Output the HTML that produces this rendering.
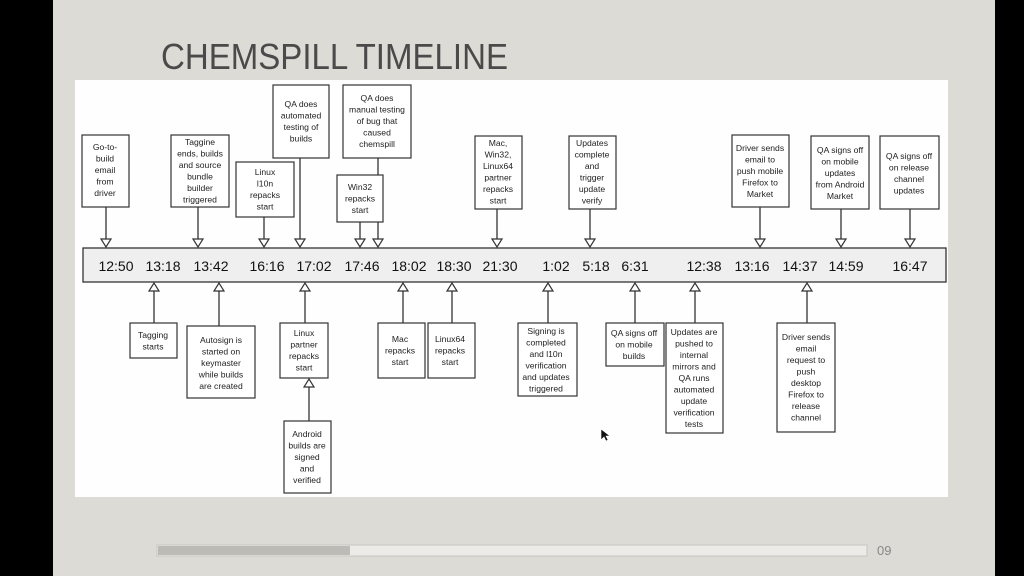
<!DOCTYPE html>
<html><head><meta charset="utf-8"><style>
html,body{margin:0;padding:0;background:#000;}
svg{display:block;}
text{font-family:"Liberation Sans",sans-serif;}
</style></head><body>
<svg width="1024" height="576" viewBox="0 0 1024 576" xmlns="http://www.w3.org/2000/svg">
<rect x="0" y="0" width="1024" height="576" fill="#000"/>
<rect x="53" y="0" width="942" height="576" fill="#dddbd5"/>
<text x="161" y="69" font-size="36" fill="#4a4a4a" textLength="347" lengthAdjust="spacingAndGlyphs" style="font-weight:300">CHEMSPILL TIMELINE</text>
<rect x="75" y="80" width="873" height="417" fill="#fefefe"/>
<!-- progress -->
<rect x="157" y="545" width="710" height="11" fill="#ecebe7" stroke="#c8c6c0" stroke-width="1"/>
<rect x="158" y="546" width="192" height="9" fill="#bdbbb6"/>
<text x="877" y="555" font-size="13" fill="#888">09</text>

<g stroke="#333" stroke-width="1.3" fill="#fff">
<!-- bar -->
<rect x="83" y="248" width="863" height="34" fill="#efefef"/>
</g>
<g font-size="14" fill="#111" text-anchor="middle">
<text x="116" y="271">12:50</text><text x="163" y="271">13:18</text><text x="211" y="271">13:42</text>
<text x="267" y="271">16:16</text><text x="314" y="271">17:02</text><text x="362" y="271">17:46</text>
<text x="409" y="271">18:02</text><text x="454" y="271">18:30</text><text x="500" y="271">21:30</text>
<text x="556" y="271">1:02</text><text x="596" y="271">5:18</text><text x="635" y="271">6:31</text>
<text x="704" y="271">12:38</text><text x="752" y="271">13:16</text><text x="800" y="271">14:37</text>
<text x="846" y="271">14:59</text><text x="910" y="271">16:47</text>
</g>

<g stroke="#333" stroke-width="1.3" fill="none">
<!-- top connectors -->
<path d="M106 207V240M198 207V240M264 217V240M300 158V240M378 158V240M360 222V240M497 209V240M590 209V240M760 207V240M841 209V240M910 209V240"/>
<!-- bottom connectors -->
<path d="M154 291V323M219 291V326M305 291V323M309 387V421M403 291V323M452 291V323M548 291V323M635 291V323M695 291V323M807 291V323"/>
</g>
<g stroke="#333" stroke-width="1.2" fill="#fff">
<!-- down arrowheads -->
<path d="M101 239h10l-5 8z"/><path d="M193 239h10l-5 8z"/><path d="M259 239h10l-5 8z"/><path d="M295 239h10l-5 8z"/>
<path d="M373 239h10l-5 8z"/><path d="M355 239h10l-5 8z"/><path d="M492 239h10l-5 8z"/><path d="M585 239h10l-5 8z"/>
<path d="M755 239h10l-5 8z"/><path d="M836 239h10l-5 8z"/><path d="M905 239h10l-5 8z"/>
<!-- up arrowheads -->
<path d="M149 291h10l-5 -8z"/><path d="M214 291h10l-5 -8z"/><path d="M300 291h10l-5 -8z"/><path d="M304 387h10l-5 -8z"/>
<path d="M398 291h10l-5 -8z"/><path d="M447 291h10l-5 -8z"/><path d="M543 291h10l-5 -8z"/><path d="M630 291h10l-5 -8z"/>
<path d="M690 291h10l-5 -8z"/><path d="M802 291h10l-5 -8z"/>
<!-- top boxes -->
<rect x="82" y="135" width="47" height="72"/>
<rect x="171" y="135" width="58" height="72"/>
<rect x="236" y="162" width="58" height="55"/>
<rect x="273" y="85" width="56" height="73"/>
<rect x="343" y="85" width="68" height="73"/>
<rect x="337" y="175" width="46" height="47"/>
<rect x="475" y="136" width="47" height="73"/>
<rect x="569" y="136" width="47" height="73"/>
<rect x="732" y="135" width="57" height="72"/>
<rect x="811" y="136" width="58" height="73"/>
<rect x="880" y="136" width="59" height="73"/>
<!-- bottom boxes -->
<rect x="130" y="323" width="47" height="35"/>
<rect x="187" y="326" width="68" height="72"/>
<rect x="280" y="323" width="48" height="55"/>
<rect x="284" y="421" width="47" height="72"/>
<rect x="378" y="323" width="47" height="55"/>
<rect x="428" y="323" width="47" height="55"/>
<rect x="518" y="323" width="59" height="73"/>
<rect x="606" y="323" width="58" height="43"/>
<rect x="666" y="323" width="57" height="110"/>
<rect x="777" y="323" width="58" height="109"/>
</g>
<g font-size="8.6" fill="#222" text-anchor="middle">
<text x="105" y="150">Go-to-</text><text x="105" y="161.5">build</text><text x="105" y="173">email</text><text x="105" y="184.5">from</text><text x="105" y="196">driver</text>
<text x="200" y="145">Taggine</text><text x="200" y="156.5">ends, builds</text><text x="200" y="168">and source</text><text x="200" y="179.5">bundle</text><text x="200" y="191">builder</text><text x="200" y="202.5">triggered</text>
<text x="265" y="175">Linux</text><text x="265" y="186.5">l10n</text><text x="265" y="198">repacks</text><text x="265" y="209.5">start</text>
<text x="301" y="107">QA does</text><text x="301" y="118.5">automated</text><text x="301" y="130">testing of</text><text x="301" y="141.5">builds</text>
<text x="377" y="101">QA does</text><text x="377" y="112.5">manual testing</text><text x="377" y="124">of bug that</text><text x="377" y="135.5">caused</text><text x="377" y="147">chemspill</text>
<text x="360" y="190">Win32</text><text x="360" y="201.5">repacks</text><text x="360" y="213">start</text>
<text x="498" y="146">Mac,</text><text x="498" y="157.5">Win32,</text><text x="498" y="169">Linux64</text><text x="498" y="180.5">partner</text><text x="498" y="192">repacks</text><text x="498" y="203.5">start</text>
<text x="592" y="146">Updates</text><text x="592" y="157.5">complete</text><text x="592" y="169">and</text><text x="592" y="180.5">trigger</text><text x="592" y="192">update</text><text x="592" y="203.5">verify</text>
<text x="760" y="151">Driver sends</text><text x="760" y="162.5">email to</text><text x="760" y="174">push mobile</text><text x="760" y="185.5">Firefox to</text><text x="760" y="197">Market</text>
<text x="840" y="153">QA signs off</text><text x="840" y="164.5">on mobile</text><text x="840" y="176">updates</text><text x="840" y="187.5">from Android</text><text x="840" y="199">Market</text>
<text x="909" y="159">QA signs off</text><text x="909" y="170.5">on release</text><text x="909" y="182">channel</text><text x="909" y="193.5">updates</text>
<text x="153" y="338">Tagging</text><text x="153" y="349.5">starts</text>
<text x="221" y="343">Autosign is</text><text x="221" y="354.5">started on</text><text x="221" y="366">keymaster</text><text x="221" y="377.5">while builds</text><text x="221" y="389">are created</text>
<text x="304" y="336">Linux</text><text x="304" y="347.5">partner</text><text x="304" y="359">repacks</text><text x="304" y="370.5">start</text>
<text x="307" y="437">Android</text><text x="307" y="448.5">builds are</text><text x="307" y="460">signed</text><text x="307" y="471.5">and</text><text x="307" y="483">verified</text>
<text x="400" y="342">Mac</text><text x="400" y="353.5">repacks</text><text x="400" y="365">start</text>
<text x="450" y="342">Linux64</text><text x="450" y="353.5">repacks</text><text x="450" y="365">start</text>
<text x="546" y="334">Signing is</text><text x="546" y="345.5">completed</text><text x="546" y="357">and l10n</text><text x="546" y="368.5">verification</text><text x="546" y="380">and updates</text><text x="546" y="391.5">triggered</text>
<text x="634" y="336">QA signs off</text><text x="634" y="347.5">on mobile</text><text x="634" y="359">builds</text>
<text x="694" y="335">Updates are</text><text x="694" y="346.5">pushed to</text><text x="694" y="358">internal</text><text x="694" y="369.5">mirrors and</text><text x="694" y="381">QA runs</text><text x="694" y="392.5">automated</text><text x="694" y="404">update</text><text x="694" y="415.5">verification</text><text x="694" y="427">tests</text>
<text x="806" y="340">Driver sends</text><text x="806" y="351.5">email</text><text x="806" y="363">request to</text><text x="806" y="374.5">push</text><text x="806" y="386">desktop</text><text x="806" y="397.5">Firefox to</text><text x="806" y="409">release</text><text x="806" y="420.5">channel</text>
</g>
<path d="M601 429v11l3 -3 2 4 2 -1 -2 -4 4 0z" fill="#111" stroke="#fff" stroke-width="0.6"/>
</svg>
</body></html>
